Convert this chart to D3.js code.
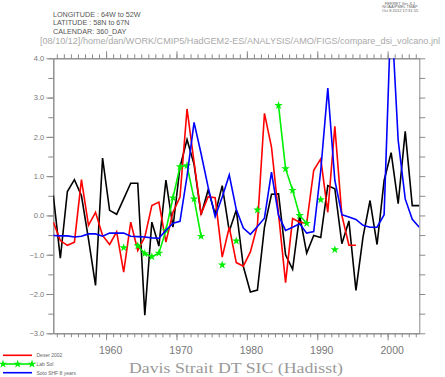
<!DOCTYPE html>
<html>
<head>
<meta charset="utf-8">
<script src="https://cdn.jsdelivr.net/npm/d3@7"></script>
<style>
  body { margin: 0; background: #fff; }
  #chart { width: 445px; height: 377px; }
  text { font-family: "Liberation Sans", Arial, sans-serif; }
</style>
</head>
<body>
<div id="chart"></div>
<script>
// data (annual, 1952 -> 2004)
const years = d3.range(1952, 2005);

const dsiBlack = [0.51, -1.09, 0.61, 0.91, 0.50, -0.6, -1.78, 1.46, 0.13, 0.03,
  0.42, 0.82, 0.82, -2.54, -0.17, -0.78, 0.9, -0.3, 1.23, 1.93,
  1.3, 0.02, 0.65, 0.04, 0.76, -0.4, 0.14, -1.3, -1.95, -1.9,
  -0.3, 0.54, 0.55, -1.0, -1.37, 0.0, -0.96, -0.51, -0.56, 0.76,
  0.68, -0.72, -0.14, -1.91, -0.55, 0.38, -0.74, 0.89, 1.6, 0.3,
  2.14, 0.25, 0.25];

const deserYears = d3.range(1952, 1996);
const deser2002 = [-0.17, -0.64, -0.76, -0.68, 0.91, -0.25, 0.08, -0.51, -0.74, -0.42,
  -1.44, -0.17, -0.89, -0.55, 0.25, 0.34, -0.68, 0.08, 0.47, 2.71,
  1.36, 0.04, 0.48, 0.45, -1.06, -0.3, -1.2, -1.29, -0.93, -0.25,
  2.6, 1.74, 0.04, -1.71, -0.08, -0.17, -0.2, 1.15, 1.44, 0.08,
  2.27, 0.0, -0.76, -0.76];

const sotoShf = [-0.51, -0.52, -0.52, -0.55, -0.53, -0.47, -0.47, -0.53, -0.45, -0.45,
  -0.45, -0.53, -0.54, -0.55, -0.57, -0.58, -0.38, -0.2, -0.15, 1.0,
  2.37, 1.57, 0.72, -0.03, 0.47, 1.03, 0.15, -0.32, -0.48, -0.28,
  -0.07, 1.1, 0.0, -0.38, -0.3, -0.21, -0.45, -0.41, 1.15, 3.24,
  0.89, 0.02, -0.04, -0.1, -0.25, -0.3, -0.3, 0.02, 5.3, 1.91,
  0.42, -0.1, -0.3];

const labYears = [1962, 1964, 1965, 1966, 1967, 1968, 1969, 1970, 1971, 1972, 1973,
  1976, 1978, 1981, 1984, 1985, 1986, 1987, 1988, 1990, 1992];
const labSol = [-0.82, -0.77, -0.97, -1.05, -0.96, -0.38, 0.45, 1.24, 1.27, 0.42, -0.53,
  -1.26, -0.65, 0.14, 2.8, 1.19, 0.64, 0.0, -0.2, 0.4, -0.87];

const yTicks = [-3, -2, -1, 0, 1, 2, 3, 4];
const xTicks = [1960, 1970, 1980, 1990, 2000];
const headerLines = ["LONGITUDE : 64W to 52W", "LATITUDE : 58N to 67N", "CALENDAR: 360_DAY"];
const ferretLines = ["FERRET Ver. 6.1", "NOAA/PMEL TMAP", "Oct  8 2012 17:31:55"];
const legendNames = ["Deser 2002", "Lab Sol", "Soto SHF 8 years"];
const legendColors = ["#ff0000", "#00ee00", "#0000ff"];

// 1. SVG
const width = 445, height = 377;
const svg = d3.select("#chart").append("svg")
  .attr("width", width)
  .attr("height", height);

const margin = { top: 58.3, left: 53.3, right: 25.7, bottom: 43.7 };

// 2. SCALES
const xScale = d3.scaleLinear()
  .domain([1952.5, 2004.5])
  .range([margin.left, width - margin.right]);

const yScale = d3.scaleLinear()
  .domain([-3, 4])
  .range([height - margin.bottom, margin.top]);

// 3. AXES (ferret style: ticks outward on all four sides)
const axisColor = "#8a8a8a";
function styleAxis(g) {
  g.select(".domain").attr("stroke", axisColor);
  g.selectAll(".tick line").attr("stroke", axisColor);
  g.selectAll("text").attr("fill", "#777");
}

const yearTicks = d3.range(1953, 2005);
const halfTicks = d3.range(-3, 4.01, 0.5);

// bottom
svg.append("g")
  .attr("transform", `translate(0,${yScale(-3)})`)
  .call(d3.axisBottom(xScale).tickValues(yearTicks).tickSize(4).tickSizeOuter(0).tickFormat(""))
  .call(styleAxis);
svg.append("g")
  .attr("transform", `translate(0,${yScale(-3)})`)
  .call(d3.axisBottom(xScale).tickValues(xTicks).tickSize(7).tickSizeOuter(0).tickPadding(4).tickFormat(d3.format("d")))
  .call(styleAxis)
  .call(g => g.selectAll("text").attr("font-size", 10.5).attr("dy", "0.9em").attr("dx", 4));

// top
svg.append("g")
  .attr("transform", `translate(0,${yScale(4)})`)
  .call(d3.axisTop(xScale).tickValues(yearTicks).tickSize(4).tickSizeOuter(0).tickFormat(""))
  .call(styleAxis);
svg.append("g")
  .attr("transform", `translate(0,${yScale(4)})`)
  .call(d3.axisTop(xScale).tickValues(xTicks).tickSize(7).tickSizeOuter(0).tickFormat(""))
  .call(styleAxis);

// left
svg.append("g")
  .attr("transform", `translate(${xScale(1952.5)},0)`)
  .call(d3.axisLeft(yScale).tickValues(halfTicks).tickSize(5).tickSizeOuter(0).tickFormat(""))
  .call(styleAxis);
svg.append("g")
  .attr("transform", `translate(${xScale(1952.5)},0)`)
  .call(d3.axisLeft(yScale).tickValues(yTicks).tickSize(7).tickSizeOuter(0).tickPadding(2).tickFormat(d3.format(".1f")))
  .call(styleAxis)
  .call(g => g.selectAll("text").attr("font-size", 7.5).text(d => d < 0 ? "\u2212" + Math.abs(d).toFixed(1) : d.toFixed(1)));

// right
svg.append("g")
  .attr("transform", `translate(${xScale(2004.5)},0)`)
  .call(d3.axisRight(yScale).tickValues(halfTicks).tickSize(6).tickSizeOuter(0).tickFormat(""))
  .call(styleAxis);

// 4. LINES
svg.append("clipPath").attr("id", "plotclip")
  .append("rect")
  .attr("x", xScale(1952.5)).attr("y", yScale(4))
  .attr("width", xScale(2004.5) - xScale(1952.5))
  .attr("height", yScale(-3) - yScale(4));

const plot = svg.append("g").attr("clip-path", "url(#plotclip)");

const line = d3.line()
  .defined(d => d[1] != null)
  .x(d => xScale(d[0] + 0.5))
  .y(d => yScale(d[1]));

plot.append("path")
  .datum(years.map((y, i) => [y, dsiBlack[i]]))
  .attr("d", line)
  .attr("fill", "none")
  .attr("stroke", "#000")
  .attr("stroke-width", 1.6);

plot.append("path")
  .datum(deserYears.map((y, i) => [y, deser2002[i]]))
  .attr("d", line)
  .attr("fill", "none")
  .attr("stroke", legendColors[0])
  .attr("stroke-width", 1.6);

// lab sol: break the line where a year is missing
const labAnnual = d3.range(1962, 1993).map(y => {
  const k = labYears.indexOf(y);
  return [y, k < 0 ? null : labSol[k]];
});
plot.append("path")
  .datum(labAnnual)
  .attr("d", line)
  .attr("fill", "none")
  .attr("stroke", legendColors[1])
  .attr("stroke-width", 1.6);

const star = d3.symbol().type(d3.symbolStar).size(22);
plot.selectAll(".star")
  .data(labYears.map((y, i) => [y, labSol[i]]))
  .enter()
  .append("path")
  .attr("class", "star")
  .attr("transform", d => `translate(${xScale(d[0] + 0.5)},${yScale(d[1])})`)
  .attr("d", star)
  .attr("fill", legendColors[1]);

plot.append("path")
  .datum(years.map((y, i) => [y, sotoShf[i]]))
  .attr("d", line)
  .attr("fill", "none")
  .attr("stroke", legendColors[2])
  .attr("stroke-width", 1.6);

// 5. TEXT
svg.selectAll(".hdr")
  .data(headerLines)
  .enter()
  .append("text")
  .attr("class", "hdr")
  .attr("x", 53)
  .attr("y", (d, i) => 17 + i * 8.3)
  .attr("font-size", 7.2)
  .attr("fill", "#555")
  .text(d => d);

svg.selectAll(".ferret")
  .data(ferretLines)
  .enter()
  .append("text")
  .attr("class", "ferret")
  .attr("x", 400)
  .attr("y", (d, i) => 4.5 + i * 3.6)
  .attr("text-anchor", "middle")
  .attr("font-size", 4)
  .attr("fill", "#666")
  .text(d => d);

svg.append("text")
  .attr("x", 40)
  .attr("y", 43.5)
  .attr("font-size", 9)
  .attr("fill", "#aaa")
  .attr("textLength", 400)
  .attr("lengthAdjust", "spacingAndGlyphs")
  .text("[08/10/12]/home/dan/WORK/CMIP5/HadGEM2-ES/ANALYSIS/AMO/FIGS/compare_dsi_volcano.jnl");

svg.append("text")
  .attr("x", 236)
  .attr("y", 373)
  .attr("text-anchor", "middle")
  .style("font-family", "'Liberation Serif', 'DejaVu Serif', serif")
  .attr("font-size", 15)
  .attr("fill", "#999")
  .attr("textLength", 214)
  .attr("lengthAdjust", "spacingAndGlyphs")
  .text("Davis Strait DT SIC (Hadisst)");

// 6. LEGEND
const legend = svg.append("g").attr("class", "legend");
const legendY = [355.3, 364, 372.7];

legend.selectAll("line")
  .data(legendNames)
  .enter()
  .append("line")
  .attr("x1", 3).attr("x2", 32)
  .attr("y1", (d, i) => legendY[i]).attr("y2", (d, i) => legendY[i])
  .attr("stroke", (d, i) => legendColors[i])
  .attr("stroke-width", 1.6);

legend.selectAll(".lstar")
  .data([3, 17.7, 32])
  .enter()
  .append("path")
  .attr("class", "lstar")
  .attr("transform", d => `translate(${d},${legendY[1]})`)
  .attr("d", star)
  .attr("fill", legendColors[1]);

legend.selectAll("text")
  .data(legendNames)
  .enter()
  .append("text")
  .attr("x", 36.5)
  .attr("y", (d, i) => legendY[i] + 2)
  .attr("font-size", 5)
  .attr("fill", "#666")
  .text(d => d);
</script>
</body>
</html>
